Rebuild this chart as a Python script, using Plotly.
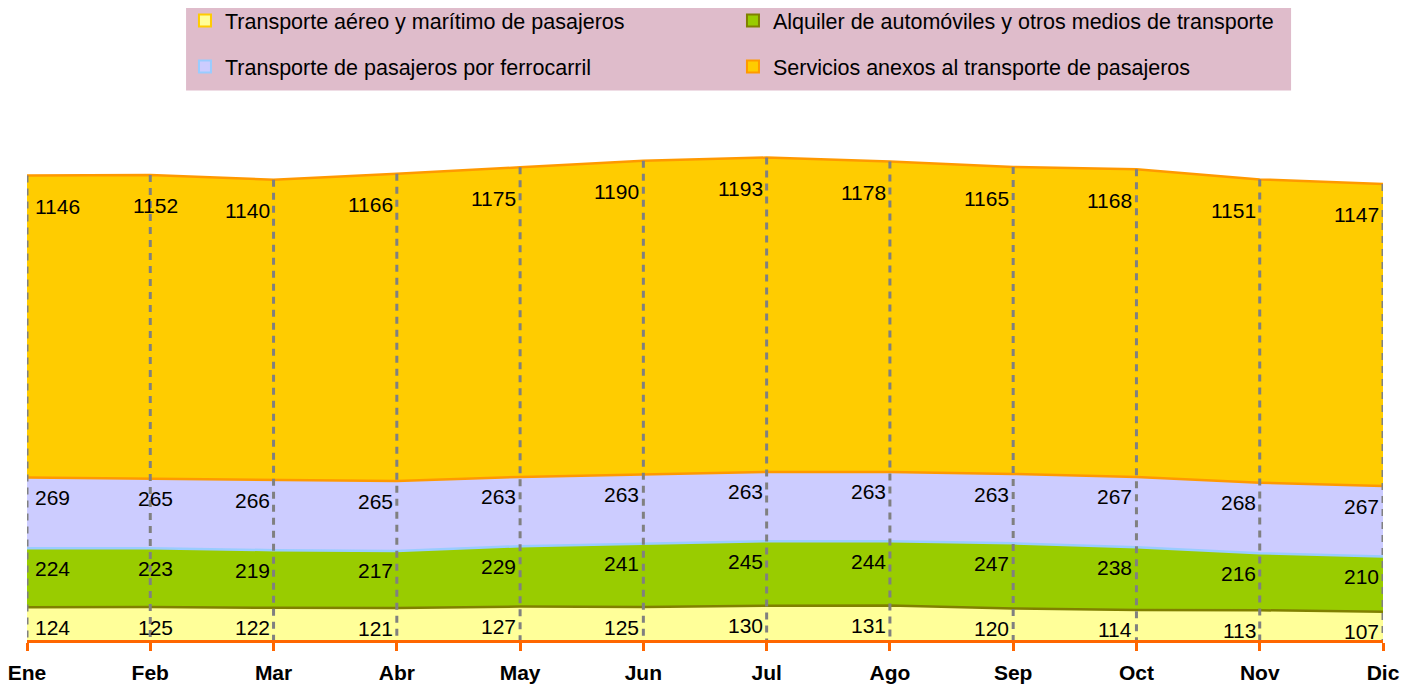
import plotly.graph_objects as go
import numpy as np

months = ["Ene", "Feb", "Mar", "Abr", "May", "Jun", "Jul", "Ago", "Sep", "Oct", "Nov", "Dic"]

aereo = [124, 125, 122, 121, 127, 125, 130, 131, 120, 114, 113, 107]
alquiler = [224, 223, 219, 217, 229, 241, 245, 244, 247, 238, 216, 210]
ferrocarril = [269, 265, 266, 265, 263, 263, 263, 263, 263, 267, 268, 267]
anexos = [1146, 1152, 1140, 1166, 1175, 1190, 1193, 1178, 1165, 1168, 1151, 1147]

names = [
    "Transporte aéreo y marítimo de pasajeros",
    "Alquiler de automóviles y otros medios de transporte",
    "Transporte de pasajeros por ferrocarril",
    "Servicios anexos al transporte de pasajeros",
]
series = [aereo, alquiler, ferrocarril, anexos]

fills = ["#FFFF99", "#99CC00", "#CCCCFF", "#FFCC00"]
borders = ["#FFCC00", "#808000", "#99CCFF", "#FF9900"]
# line on top of each band = border of the band above it
toplines = ["#808000", "#99CCFF", "#FF9900", "#FF9900"]
legend_ids = ["legend", "legend", "legend2", "legend2"]

FONT = "Liberation Sans, Arial, sans-serif"

fig = go.Figure()

for s, name, fc, lc in zip(series, names, fills, toplines):
    fig.add_trace(go.Scatter(
        x=months, y=s, stackgroup="one", mode="lines",
        line=dict(color=lc, width=2.5), fillcolor=fc,
        name=name, showlegend=False, hoverinfo="skip",
    ))

# drop lines from total down to axis
cum = np.cumsum(np.array(series), axis=0)
totals = cum[-1]
dx, dy = [], []
for m, t in zip(months, totals):
    dx += [m, m, None]
    dy += [t, 0, None]
fig.add_trace(go.Scatter(
    x=dx, y=dy, mode="lines", showlegend=False, hoverinfo="skip",
    line=dict(color="#808080", width=3, dash="7px,6px"),
))

# legend entries
for name, fc, bc, lg in zip(names, fills, borders, legend_ids):
    fig.add_trace(go.Scatter(
        x=[None], y=[None], mode="markers", name=name, legend=lg,
        marker=dict(symbol="square", size=12, color=fc, line=dict(color=bc, width=2)),
    ))

# data labels
for k, s in enumerate(series):
    yshift = -31 if k == 3 else -20
    for i, (m, v) in enumerate(zip(months, s)):
        if i == 0:
            xanchor, xshift = "left", 6
        elif i == 1:
            xanchor, xshift = "center", 5
        else:
            xanchor, xshift = "right", -2
        fig.add_annotation(
            x=m, y=cum[k][i], text=str(v), showarrow=False,
            xanchor=xanchor, yanchor="middle", xshift=xshift, yshift=yshift,
            font=dict(family=FONT, size=21, color="#000000"),
        )

fig.add_shape(
    type="rect", xref="paper", yref="paper", layer="below",
    x0=0.1173, x1=0.9322, y0=1.0429, y1=1.23,
    fillcolor="#DFBCCB", line=dict(width=0),
)

legend_common = dict(
    orientation="h", xanchor="left", yanchor="middle", x=0.1165,
    bgcolor="rgba(0,0,0,0)", entrywidth=503, traceorder="normal",
    font=dict(family=FONT, size=21.5, color="#000000"),
)

fig.update_layout(
    width=1417, height=689,
    margin=dict(l=19, r=42, t=105, b=57, autoexpand=False),
    paper_bgcolor="white", plot_bgcolor="white",
    font=dict(family=FONT),
    legend=dict(legend_common, y=1.1756),
    legend2=dict(legend_common, y=1.0884),
    xaxis=dict(
        type="category", range=[0, 11], showgrid=False, zeroline=False,
        automargin=False,
        showline=True, linecolor="#FF6600", linewidth=2.5,
        ticks="outside", ticklen=8, tickwidth=2.5, tickcolor="#FF6600",
        ticklabelstandoff=4,
        tickfont=dict(family=FONT, size=21, color="#000000", weight="bold"),
    ),
    yaxis=dict(range=[0, 2000], visible=False, showgrid=False, automargin=False),
)

fig.write_html("out.html")
